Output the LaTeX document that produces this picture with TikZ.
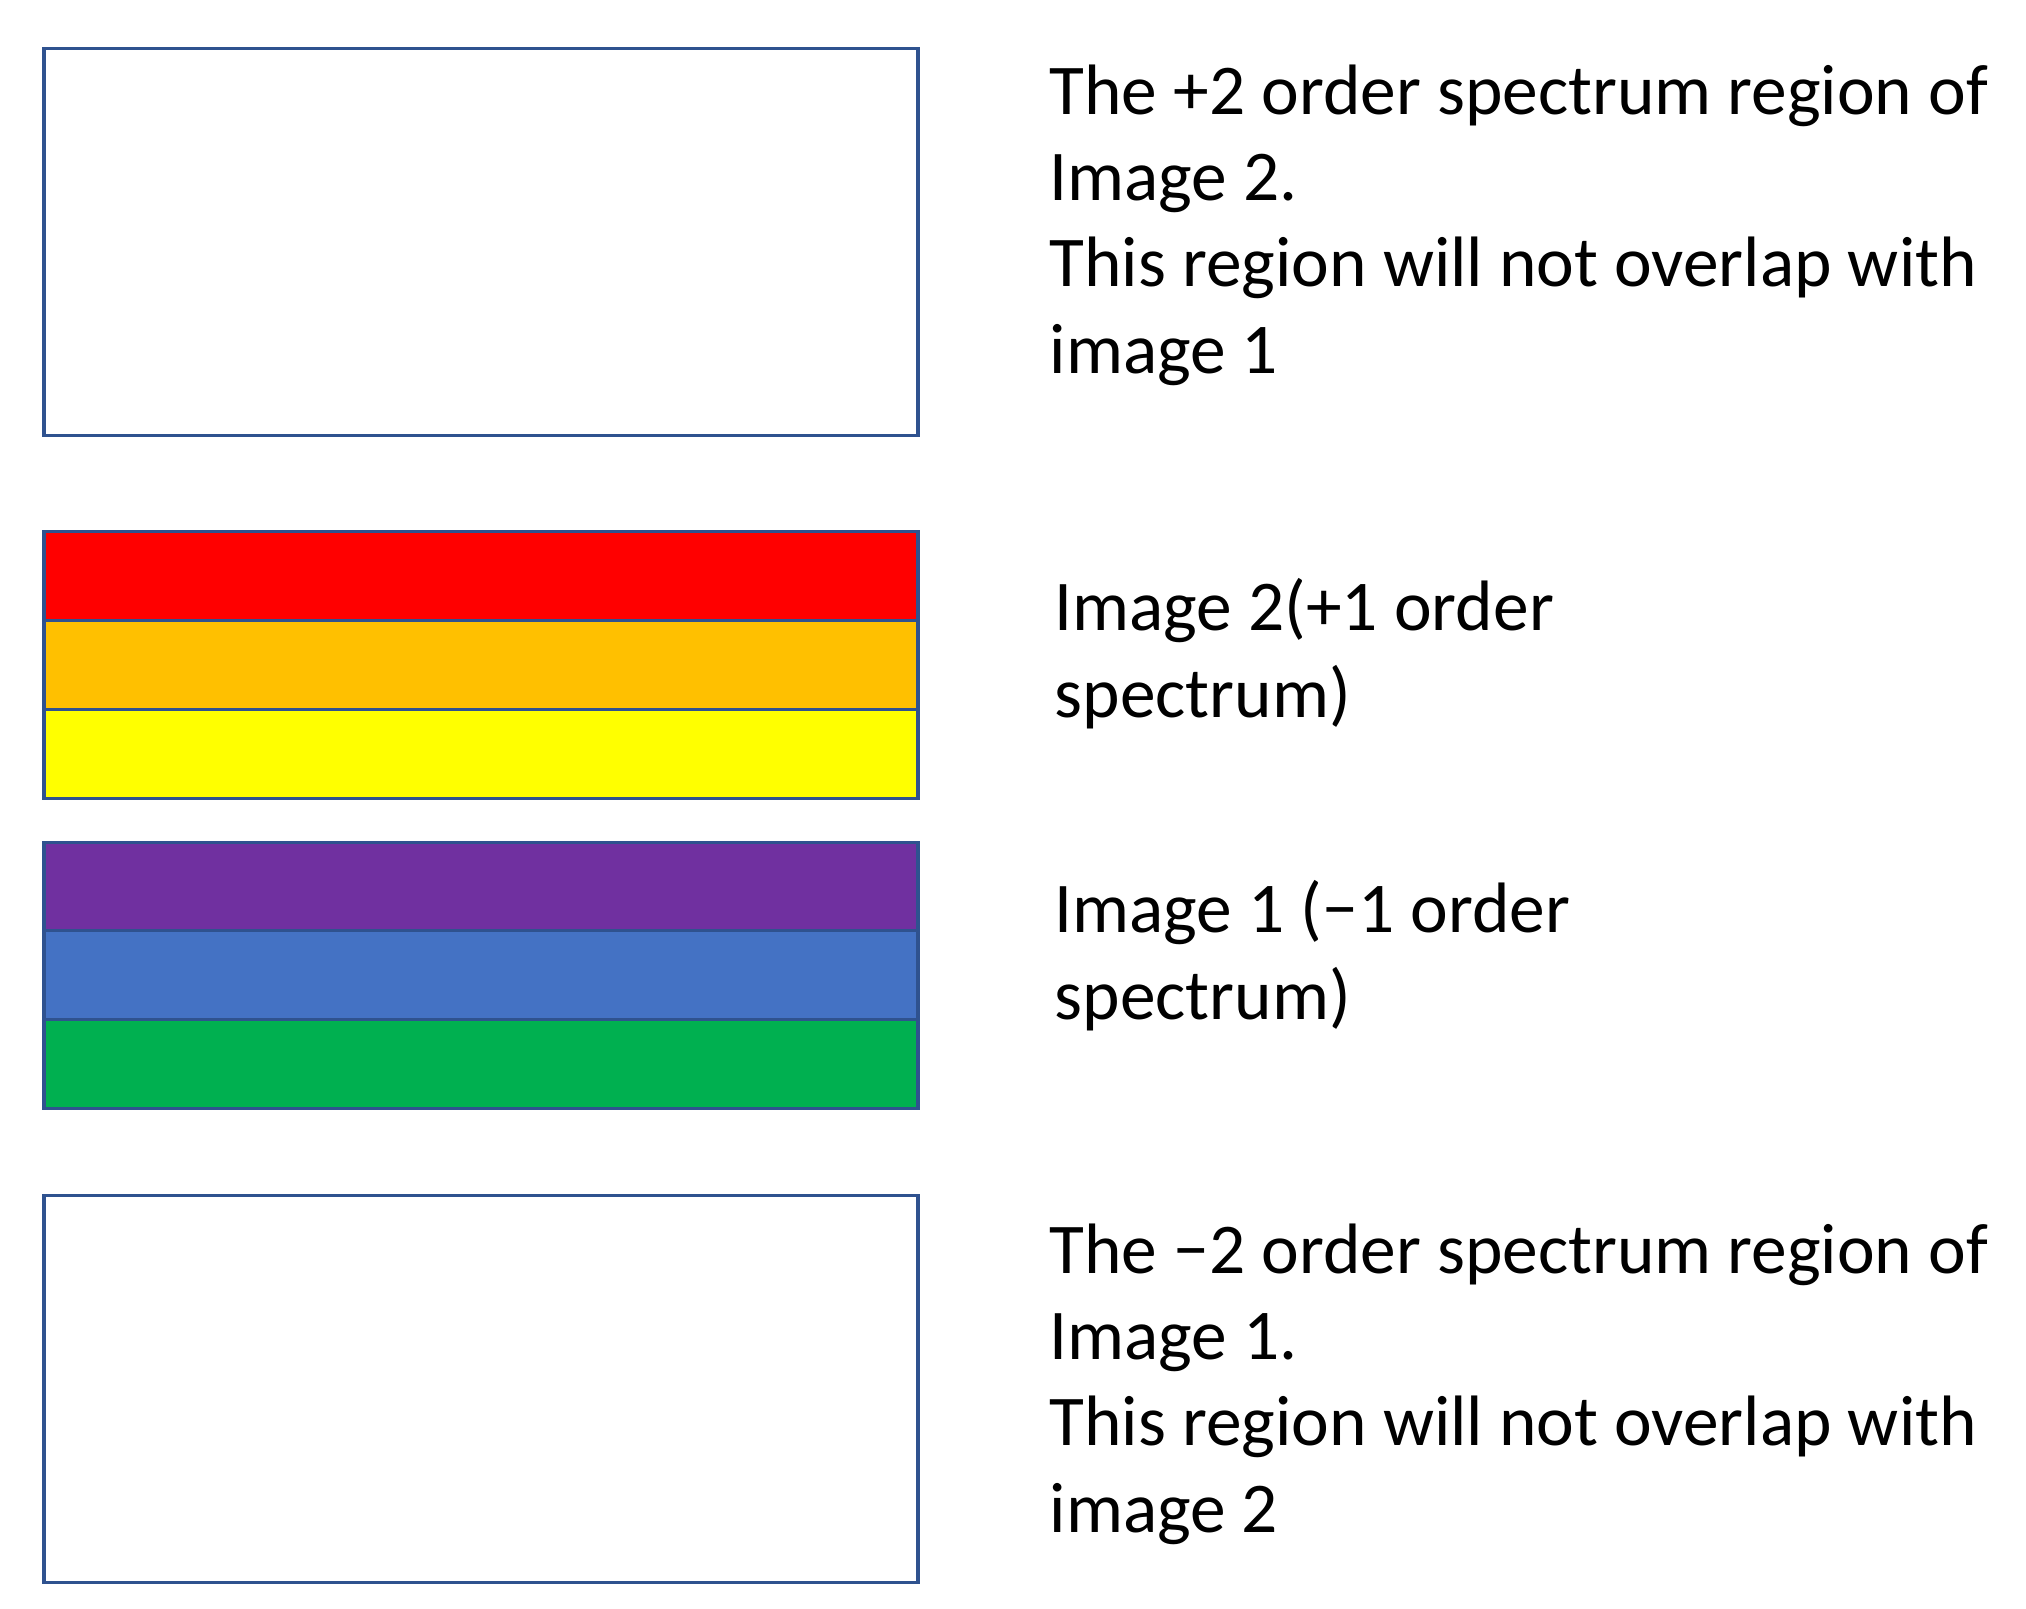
\documentclass[tikz,border=0pt]{standalone}
\usepackage{fontspec}
\setmainfont{Carlito}
\definecolor{boxblue}{HTML}{2F528F}
\definecolor{bandyellow}{HTML}{FFFF00}
\definecolor{bandorange}{HTML}{FFC000}
\definecolor{bandpurple}{HTML}{7030A0}
\definecolor{bandblue}{HTML}{4472C4}
\definecolor{bandgreen}{HTML}{00B050}
\tikzset{every picture/.append style={x=0.01cm, y=-0.01cm}}
\tikzset{
    outline/.style={draw=boxblue, line width=1pt},
    region/.style={outline, fill=white, minimum width=8.73cm,
    	minimum height=3.87cm, inner sep=0pt},
    band/.style={outline, minimum width=8.73cm, minimum height=0.885cm,
    	inner sep=0pt},
    remark/.style={anchor=base west, align=left, inner sep=0pt,
    	font=\fontsize{20.3}{24.5}\selectfont}
}

\begin{document}
\begin{tikzpicture}
	\useasboundingbox (0,0) rectangle (2026,1609);
	\node [region] (plustwo) at (481,242) {};
	\node [band, fill=red] (red) at (481,576) {};
	\node [band, fill=bandorange] (orange) at (481,665) {};
	\node [band, fill=bandyellow] (yellow) at (481,754) {};
	\node [band, fill=bandpurple] (purple) at (481,887) {};
	\node [band, fill=bandblue] (blue) at (481,975) {};
	\node [band, fill=bandgreen] (green) at (481,1064) {};
	\node [region] (minustwo) at (481,1389) {};
	\node [remark] (plustwotext) at (1049,373) {The +2 order spectrum region of\\
		Image 2.\\ This region will not overlap with\\ image 1};
	\node [remark] (imagetwo) at (1054,717) {Image 2(+1 order\\ spectrum)};
	\node [remark] (imageone) at (1054,1019) {Image 1 (−1 order\\ spectrum)};
	\node [remark] (minustwotext) at (1049,1532) {The −2 order spectrum region of\\
		Image 1.\\ This region will not overlap with\\ image 2};
\end{tikzpicture}
\end{document}
